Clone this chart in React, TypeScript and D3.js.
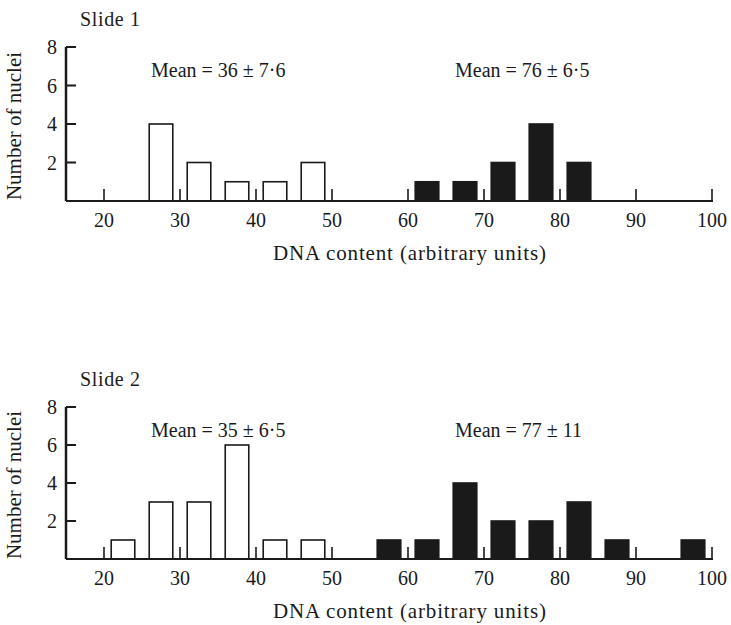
import * as d3 from "d3";

// histogram bins (centre of each 5-unit class) and counts
const slide1OpenBins = [27.5, 32.5, 37.5, 42.5, 47.5];
const slide1OpenCounts = [4, 2, 1, 1, 2];
const slide1FilledBins = [62.5, 67.5, 72.5, 77.5, 82.5];
const slide1FilledCounts = [1, 1, 2, 4, 2];

const slide2OpenBins = [22.5, 27.5, 32.5, 37.5, 42.5, 47.5];
const slide2OpenCounts = [1, 3, 3, 6, 1, 1];
const slide2FilledBins = [57.5, 62.5, 67.5, 72.5, 77.5, 82.5, 87.5, 97.5];
const slide2FilledCounts = [1, 1, 4, 2, 2, 3, 1, 1];

const xTicks = [20, 30, 40, 50, 60, 70, 80, 90, 100];
const yTicks = [2, 4, 6, 8];

const panelTitles = ["Slide 1", "Slide 2"];
const openMeans = ["Mean = 36 ± 7·6", "Mean = 35 ± 6·5"];
const filledMeans = ["Mean = 76 ± 6·5", "Mean = 77 ± 11"];

const FONT = "'Liberation Serif', 'Times New Roman', serif";
const INK = "#1a1a1a";
const BAR_HALF = 1.55;

const x = d3.scaleLinear().domain([15, 100]).range([66, 712]);

type PanelProps = {
  top: number;
  bottom: number;
  title: string;
  openBins: number[];
  openCounts: number[];
  filledBins: number[];
  filledCounts: number[];
  openMean: string;
  filledMean: string;
};

const Panel = ({ top, bottom, title, openBins, openCounts, filledBins, filledCounts, openMean, filledMean }: PanelProps) => {
  const y = d3.scaleLinear().domain([0, 8]).range([bottom, top]);
  const base = y(0);

  const bar = (c: number, n: number, filled: boolean, key: string) => (
    <rect
      key={key}
      x={x(c - BAR_HALF)}
      y={y(n)}
      width={x(c + BAR_HALF) - x(c - BAR_HALF)}
      height={base - y(n)}
      fill={filled ? INK : "#fff"}
      stroke={INK}
      strokeWidth={1.6}
    />
  );

  return (
    <g fontFamily={FONT} fill={INK}>
      <text x={80} y={top - 21} fontSize={20} textLength={60} lengthAdjust="spacing">{title}</text>

      {/* y axis */}
      <line x1={x(15)} x2={x(15)} y1={y(8)} y2={base} stroke={INK} strokeWidth={2.5} />
      {yTicks.map((t) => (
        <g key={t}>
          <line x1={x(15)} x2={x(15) + 10} y1={y(t)} y2={y(t)} stroke={INK} strokeWidth={2} />
          <text x={x(15) - 9} y={y(t)} dy="0.35em" textAnchor="end" fontSize={20}>{t}</text>
        </g>
      ))}
      <text
        transform={`translate(21,${(y(8) + base) / 2 + 2}) rotate(-90)`}
        textAnchor="middle"
        fontSize={21}
      >
        Number of nuclei
      </text>

      {openBins.map((c, i) => bar(c, openCounts[i], false, "o" + i))}
      {filledBins.map((c, i) => bar(c, filledCounts[i], true, "f" + i))}

      {/* x axis */}
      <line x1={x(15)} x2={x(100) + 1} y1={base} y2={base} stroke={INK} strokeWidth={2} />
      {xTicks.map((t) => (
        <g key={t}>
          <line x1={x(t)} x2={x(t)} y1={base} y2={base - 12} stroke={INK} strokeWidth={1.6} />
          <text x={x(t)} y={base + 26} textAnchor="middle" fontSize={20}>{t}</text>
        </g>
      ))}
      <text x={273} y={base + 59} fontSize={21} textLength={273} lengthAdjust="spacing">
        DNA content (arbitrary units)
      </text>

      <text x={151} y={top + 30} fontSize={20}>{openMean}</text>
      <text x={455} y={top + 30} fontSize={20}>{filledMean}</text>
    </g>
  );
};

export default function App() {
  return (
    <svg width={731} height={625} style={{ position: "absolute", left: 0, top: 0, background: "#fff" }}>
      <rect width={731} height={625} fill="#fff" />
      <Panel
        top={47}
        bottom={201}
        title={panelTitles[0]}
        openBins={slide1OpenBins}
        openCounts={slide1OpenCounts}
        filledBins={slide1FilledBins}
        filledCounts={slide1FilledCounts}
        openMean={openMeans[0]}
        filledMean={filledMeans[0]}
      />
      <Panel
        top={407}
        bottom={559}
        title={panelTitles[1]}
        openBins={slide2OpenBins}
        openCounts={slide2OpenCounts}
        filledBins={slide2FilledBins}
        filledCounts={slide2FilledCounts}
        openMean={openMeans[1]}
        filledMean={filledMeans[1]}
      />
    </svg>
  );
}
